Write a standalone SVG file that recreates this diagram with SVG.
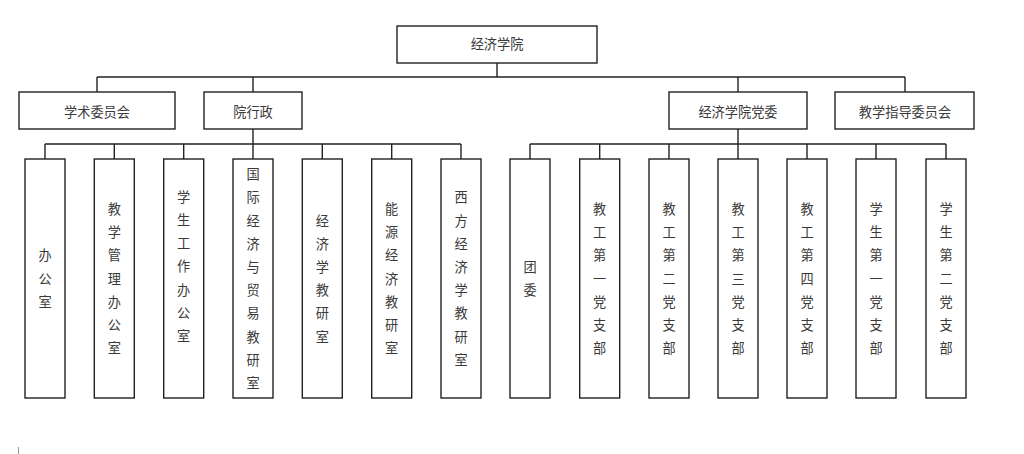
<svg xmlns="http://www.w3.org/2000/svg" width="1024" height="454" viewBox="0 0 1024 454">
<style>
rect.b{fill:#fff;stroke:#222;stroke-width:1.4}
.c line{stroke:#222;stroke-width:1.4}
text{font-family:"Noto Sans CJK SC","Noto Sans",sans-serif;font-size:13.2px;fill:#3a3a3a;text-anchor:middle;dominant-baseline:central}
</style>
<rect width="1024" height="454" fill="#fff"/>
<g class="c" id="connectors">
<line x1="497" y1="63" x2="497" y2="77"/>
<line x1="97" y1="77" x2="905" y2="77"/>
<line x1="97" y1="77" x2="97" y2="92"/>
<line x1="253" y1="77" x2="253" y2="92"/>
<line x1="738" y1="77" x2="738" y2="92"/>
<line x1="905" y1="77" x2="905" y2="92"/>
<line x1="253" y1="129" x2="253" y2="144"/>
<line x1="45" y1="144" x2="461" y2="144"/>
<line x1="45" y1="144" x2="45" y2="159"/>
<line x1="114.3" y1="144" x2="114.3" y2="159"/>
<line x1="183.7" y1="144" x2="183.7" y2="159"/>
<line x1="253" y1="144" x2="253" y2="159"/>
<line x1="322.3" y1="144" x2="322.3" y2="159"/>
<line x1="391.7" y1="144" x2="391.7" y2="159"/>
<line x1="461" y1="144" x2="461" y2="159"/>
<line x1="738" y1="129" x2="738" y2="144"/>
<line x1="530" y1="144" x2="946" y2="144"/>
<line x1="530" y1="144" x2="530" y2="159"/>
<line x1="599.7" y1="144" x2="599.7" y2="159"/>
<line x1="669" y1="144" x2="669" y2="159"/>
<line x1="738" y1="144" x2="738" y2="159"/>
<line x1="807" y1="144" x2="807" y2="159"/>
<line x1="876" y1="144" x2="876" y2="159"/>
<line x1="946" y1="144" x2="946" y2="159"/>
</g>
<g id="n-root"><rect class="b" x="397" y="26" width="200" height="37"/><text x="497" y="43.5">经济学院</text></g>
<g id="n-xueshu"><rect class="b" x="19" y="92" width="156" height="37"/><text x="97" y="111">学术委员会</text></g>
<g id="n-yuanxingzheng"><rect class="b" x="204" y="92" width="98" height="37"/><text x="253" y="111">院行政</text></g>
<g id="n-dangwei"><rect class="b" x="669" y="92" width="138" height="37"/><text x="738" y="111">经济学院党委</text></g>
<g id="n-jiaoxue"><rect class="b" x="835" y="92" width="139" height="37"/><text x="905" y="111">教学指导委员会</text></g>

<g id="n-bgs"><rect class="b" x="25" y="159" width="40" height="239"/><text x="45"><tspan x="45" y="254.3">办</tspan><tspan x="45" y="277.5">公</tspan><tspan x="45" y="300.7">室</tspan></text></g>
<g id="n-jxgl"><rect class="b" x="94.3" y="159" width="40" height="239"/><text><tspan x="114.3" y="207.9">教</tspan><tspan x="114.3" y="231.1">学</tspan><tspan x="114.3" y="254.3">管</tspan><tspan x="114.3" y="277.5">理</tspan><tspan x="114.3" y="300.7">办</tspan><tspan x="114.3" y="323.9">公</tspan><tspan x="114.3" y="347.1">室</tspan></text></g>
<g id="n-xsgz"><rect class="b" x="163.7" y="159" width="40" height="239"/><text><tspan x="183.7" y="195.8">学</tspan><tspan x="183.7" y="219">生</tspan><tspan x="183.7" y="242.2">工</tspan><tspan x="183.7" y="265.4">作</tspan><tspan x="183.7" y="288.6">办</tspan><tspan x="183.7" y="311.8">公</tspan><tspan x="183.7" y="335">室</tspan></text></g>
<g id="n-gjjm"><rect class="b" x="233" y="159" width="40" height="239"/><text><tspan x="253" y="173.1">国</tspan><tspan x="253" y="196.3">际</tspan><tspan x="253" y="219.5">经</tspan><tspan x="253" y="242.7">济</tspan><tspan x="253" y="265.9">与</tspan><tspan x="253" y="289.1">贸</tspan><tspan x="253" y="312.3">易</tspan><tspan x="253" y="335.5">教</tspan><tspan x="253" y="358.7">研</tspan><tspan x="253" y="381.9">室</tspan></text></g>
<g id="n-jjx"><rect class="b" x="302.3" y="159" width="40" height="239"/><text><tspan x="322.3" y="219.5">经</tspan><tspan x="322.3" y="242.7">济</tspan><tspan x="322.3" y="265.9">学</tspan><tspan x="322.3" y="289.1">教</tspan><tspan x="322.3" y="312.3">研</tspan><tspan x="322.3" y="335.5">室</tspan></text></g>
<g id="n-nyjj"><rect class="b" x="371.7" y="159" width="40" height="239"/><text><tspan x="391.7" y="207.9">能</tspan><tspan x="391.7" y="231.1">源</tspan><tspan x="391.7" y="254.3">经</tspan><tspan x="391.7" y="277.5">济</tspan><tspan x="391.7" y="300.7">教</tspan><tspan x="391.7" y="323.9">研</tspan><tspan x="391.7" y="347.1">室</tspan></text></g>
<g id="n-xfjj"><rect class="b" x="441" y="159" width="40" height="239"/><text><tspan x="461" y="196.3">西</tspan><tspan x="461" y="219.5">方</tspan><tspan x="461" y="242.7">经</tspan><tspan x="461" y="265.9">济</tspan><tspan x="461" y="289.1">学</tspan><tspan x="461" y="312.3">教</tspan><tspan x="461" y="335.5">研</tspan><tspan x="461" y="358.7">室</tspan></text></g>

<g id="n-tw"><rect class="b" x="510" y="159" width="40" height="239"/><text><tspan x="530" y="265.9">团</tspan><tspan x="530" y="289.1">委</tspan></text></g>
<g id="n-jg1"><rect class="b" x="579.7" y="159" width="40" height="239"/><text><tspan x="599.7" y="207.9">教</tspan><tspan x="599.7" y="231.1">工</tspan><tspan x="599.7" y="254.3">第</tspan><tspan x="599.7" y="277.5">一</tspan><tspan x="599.7" y="300.7">党</tspan><tspan x="599.7" y="323.9">支</tspan><tspan x="599.7" y="347.1">部</tspan></text></g>
<g id="n-jg2"><rect class="b" x="649" y="159" width="40" height="239"/><text><tspan x="669" y="207.9">教</tspan><tspan x="669" y="231.1">工</tspan><tspan x="669" y="254.3">第</tspan><tspan x="669" y="277.5">二</tspan><tspan x="669" y="300.7">党</tspan><tspan x="669" y="323.9">支</tspan><tspan x="669" y="347.1">部</tspan></text></g>
<g id="n-jg3"><rect class="b" x="718" y="159" width="40" height="239"/><text><tspan x="738" y="207.9">教</tspan><tspan x="738" y="231.1">工</tspan><tspan x="738" y="254.3">第</tspan><tspan x="738" y="277.5">三</tspan><tspan x="738" y="300.7">党</tspan><tspan x="738" y="323.9">支</tspan><tspan x="738" y="347.1">部</tspan></text></g>
<g id="n-jg4"><rect class="b" x="787" y="159" width="40" height="239"/><text><tspan x="807" y="207.9">教</tspan><tspan x="807" y="231.1">工</tspan><tspan x="807" y="254.3">第</tspan><tspan x="807" y="277.5">四</tspan><tspan x="807" y="300.7">党</tspan><tspan x="807" y="323.9">支</tspan><tspan x="807" y="347.1">部</tspan></text></g>
<g id="n-xs1"><rect class="b" x="856" y="159" width="40" height="239"/><text><tspan x="876" y="207.9">学</tspan><tspan x="876" y="231.1">生</tspan><tspan x="876" y="254.3">第</tspan><tspan x="876" y="277.5">一</tspan><tspan x="876" y="300.7">党</tspan><tspan x="876" y="323.9">支</tspan><tspan x="876" y="347.1">部</tspan></text></g>
<g id="n-xs2"><rect class="b" x="926" y="159" width="40" height="239"/><text><tspan x="946" y="207.9">学</tspan><tspan x="946" y="231.1">生</tspan><tspan x="946" y="254.3">第</tspan><tspan x="946" y="277.5">二</tspan><tspan x="946" y="300.7">党</tspan><tspan x="946" y="323.9">支</tspan><tspan x="946" y="347.1">部</tspan></text></g>
<line x1="18.5" y1="447" x2="18.5" y2="454" stroke="#999" stroke-width="1"/>
</svg>
